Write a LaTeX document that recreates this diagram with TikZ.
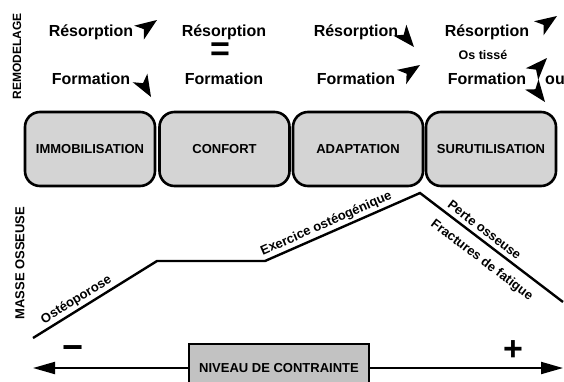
\documentclass[tikz,border=0pt]{standalone}
\usepackage{fontspec}
\setmainfont{Liberation Sans}
\usetikzlibrary{arrows.meta}
\definecolor{grisclair}{RGB}{212,212,212}
\definecolor{grisfonce}{RGB}{194,194,194}

\tikzset{
  etat/.style={draw, line width=2.6pt, fill=grisclair, rounded corners=15pt,
    minimum width=130pt, minimum height=74pt, font=\fontsize{13}{15}\selectfont\bfseries},
  remod/.style={font=\fontsize{16}{19}\selectfont\bfseries},
  legende/.style={font=\fontsize{13}{15}\selectfont\bfseries, sloped, inner sep=2pt},
  axe/.style={line width=2pt, -{Triangle[length=22pt, width=12pt]}},
  fleche/.pic={\fill (0,0) -- (-22,-8.5) -- (-16,0) -- (-22,8.5) -- cycle;}
}

\begin{document}
\begin{tikzpicture}[x=1pt, y=-1pt]
\useasboundingbox (0,0) rectangle (564,381);

% Titres verticaux
\node[rotate=90, font=\fontsize{12}{14}\selectfont\bfseries] (remodelage) at (17,56) {REMODELAGE};
\node[rotate=90, font=\fontsize{13}{15}\selectfont\bfseries] (masse) at (20,263) {MASSE OSSEUSE};

% Remodelage
\foreach \x/\nom in {91/a, 224/b, 356/c, 487/d} {
  \node[remod] (res\nom) at (\x,32) {Résorption};
  \node[remod] (form\nom) at (\x,79) {Formation};
}
\node[font=\fontsize{34}{34}\selectfont\bfseries] (egal) at (220,52) {=};
\node[font=\fontsize{12.5}{14}\selectfont\bfseries] (tisse) at (483,55) {Os tissé};
\node[remod] (ou) at (555,80) {ou};

% Fleches de tendance
\pic[rotate=35] at (157,20) {fleche};
\pic[rotate=-60] at (151,97) {fleche};
\pic[rotate=-50] at (414,47) {fleche};
\pic[rotate=33] at (420,65) {fleche};
\pic[rotate=34] at (557,16) {fleche};
\pic[rotate=47] at (547,58) {fleche};
\pic[rotate=-53] at (545,102) {fleche};

% Etats
\foreach \x/\nom/\texte in {90/immob/IMMOBILISATION, 224.5/confort/CONFORT,
    358/adapt/ADAPTATION, 491/surut/SURUTILISATION} {
  \node[etat] (\nom) at (\x,149) {\texte};
}

% Masse osseuse
\draw[line width=2.4pt, line join=miter]
  (33,338) -- node[legende, above, pos=0.39] {Ostéoporose}
  (157,261) -- (265,261) -- node[legende, above, pos=0.42] {Exercice ostéogénique}
  (420,193) -- node[legende, above, inner sep=4pt, pos=0.41] {Perte osseuse}
              node[legende, below=7pt, pos=0.5] {Fractures de fatigue}
  (563,302);

% Niveau de contrainte
\node[draw, line width=2pt, fill=grisfonce, minimum width=180pt, minimum height=48pt,
  font=\fontsize{13}{15}\selectfont\bfseries] (niveau) at (279,368) {NIVEAU DE CONTRAINTE};
\coordinate (gauche) at (33,368);
\coordinate (droite) at (563,368);
\draw[axe] (niveau.west) -- (gauche);
\draw[axe] (niveau.east) -- (droite);
\node[font=\fontsize{36}{36}\selectfont\bfseries] (moins) at (73,353) {−};
\node[font=\fontsize{34}{34}\selectfont\bfseries] (plus) at (513,351) {+};
\end{tikzpicture}
\end{document}
